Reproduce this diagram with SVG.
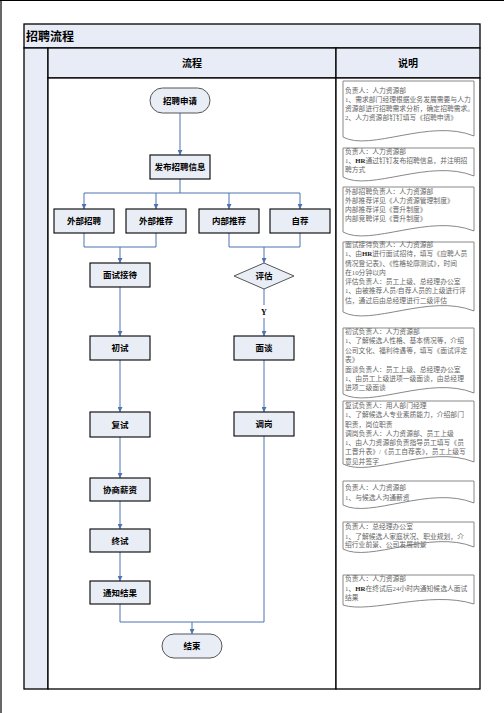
<svg xmlns="http://www.w3.org/2000/svg" width="504" height="713" viewBox="0 0 504 713">
<style>
.tb{fill:#e7ecf7;stroke:#000;stroke-width:1.3}
.cell{fill:#fff;stroke:#000;stroke-width:1.3}
.node{fill:#e9edf5;stroke:#000;stroke-width:1.1}
.pill{fill:#e9edf5;stroke:#555;stroke-width:1}
.nt{font-family:"Noto Sans CJK SC","Liberation Sans",sans-serif;font-size:8.5px;font-weight:bold;fill:#000;text-anchor:middle}
.hd{font-family:"Noto Sans CJK SC","Liberation Sans",sans-serif;font-size:10px;font-weight:bold;fill:#000;text-anchor:middle}
.ttl{font-family:"Noto Sans CJK SC","Liberation Sans",sans-serif;font-size:12px;font-weight:bold;fill:#000}
.doc{fill:#fff;stroke:#888;stroke-width:1}
.dt{font-family:"Liberation Serif","Noto Sans CJK SC",serif;font-size:6.8px;fill:#666}
.con{fill:none;stroke:#4f72b0;stroke-width:1}
.b{font-weight:bold;fill:#222}
</style>
<defs>
<marker id="ah" viewBox="0 0 6 6" refX="6" refY="3" markerWidth="5" markerHeight="5" orient="auto" markerUnits="userSpaceOnUse">
<path d="M0,0 L6,3 L0,6 Z" fill="#4f72b0"/>
</marker>
</defs>
<line x1="0" y1="0.5" x2="504" y2="0.5" stroke="#000" stroke-width="1.2"/>
<line x1="1" y1="0" x2="1" y2="713" stroke="#000" stroke-width="1.2"/>
<g id="table">
<rect class="tb" x="24" y="24" width="456" height="24"/>
<text class="ttl" x="26" y="40.5">招聘流程</text>
<rect class="tb" x="24" y="48" width="24" height="641"/>
<rect class="tb" x="48" y="48" width="288" height="30"/>
<rect class="tb" x="336" y="48" width="144" height="30"/>
<text class="hd" x="192" y="66.5">流程</text>
<text class="hd" x="408" y="66.5">说明</text>
<rect class="cell" x="48" y="78" width="288" height="611"/>
<rect class="cell" x="336" y="78" width="144" height="611"/>
</g>
<g id="connectors">
<path class="con" d="M180,113 V155" marker-end="url(#ah)"/>
<path class="con" d="M180,179 V193 M84,193 H300"/>
<path class="con" d="M84,193 V209" marker-end="url(#ah)"/>
<path class="con" d="M156,193 V209" marker-end="url(#ah)"/>
<path class="con" d="M229,193 V209" marker-end="url(#ah)"/>
<path class="con" d="M300,193 V209" marker-end="url(#ah)"/>
<path class="con" d="M84,233 V247 H156 V233"/>
<path class="con" d="M120,247 V263" marker-end="url(#ah)"/>
<path class="con" d="M229,233 V247 H300 V233"/>
<path class="con" d="M264,247 V263" marker-end="url(#ah)"/>
<path class="con" d="M120,287 V336" marker-end="url(#ah)"/>
<path class="con" d="M264,289 V305"/>
<path class="con" d="M264,318 V336" marker-end="url(#ah)"/>
<text x="264" y="315" font-family="Liberation Serif,serif" font-size="8px" font-weight="bold" text-anchor="middle">Y</text>
<path class="con" d="M120,360 V412" marker-end="url(#ah)"/>
<path class="con" d="M264,360 V412" marker-end="url(#ah)"/>
<path class="con" d="M120,437 V478" marker-end="url(#ah)"/>
<path class="con" d="M120,501 V529" marker-end="url(#ah)"/>
<path class="con" d="M120,552 V581" marker-end="url(#ah)"/>
<path class="con" d="M120,604 V622 H264 V436"/>
<path class="con" d="M192,622 V634" marker-end="url(#ah)"/>
</g>
<g id="n-start"><rect class="pill" x="150" y="88" width="60" height="25" rx="12.5"/><text class="nt" x="180" y="103.5">招聘申请</text></g>
<g id="n-publish"><rect class="node" x="150" y="155" width="60" height="24"/><text class="nt" x="180" y="170">发布招聘信息</text></g>
<g id="n-ext"><rect class="node" x="54" y="209" width="60" height="24"/><text class="nt" x="84" y="224">外部招聘</text></g>
<g id="n-extref"><rect class="node" x="126" y="209" width="60" height="24"/><text class="nt" x="156" y="224">外部推荐</text></g>
<g id="n-intref"><rect class="node" x="199" y="209" width="60" height="24"/><text class="nt" x="229" y="224">内部推荐</text></g>
<g id="n-self"><rect class="node" x="270" y="209" width="60" height="24"/><text class="nt" x="300" y="224">自荐</text></g>
<g id="n-reception"><rect class="node" x="90" y="263" width="60" height="24"/><text class="nt" x="120" y="278">面试接待</text></g>
<g id="n-eval"><polygon class="pill" points="264,263 294,276 264,289 234,276"/><text class="nt" x="264" y="279">评估</text></g>
<g id="n-first"><rect class="node" x="90" y="336" width="60" height="24"/><text class="nt" x="120" y="351">初试</text></g>
<g id="n-talk"><rect class="node" x="234" y="336" width="60" height="24"/><text class="nt" x="264" y="351">面谈</text></g>
<g id="n-second"><rect class="node" x="90" y="412" width="60" height="25"/><text class="nt" x="120" y="427.5">复试</text></g>
<g id="n-transfer"><rect class="node" x="234" y="412" width="60" height="24"/><text class="nt" x="264" y="427">调岗</text></g>
<g id="n-salary"><rect class="node" x="90" y="478" width="60" height="23"/><text class="nt" x="120" y="492.5">协商薪资</text></g>
<g id="n-final"><rect class="node" x="90" y="529" width="60" height="23"/><text class="nt" x="120" y="543.5">终试</text></g>
<g id="n-notify"><rect class="node" x="90" y="581" width="60" height="23"/><text class="nt" x="120" y="595.5">通知结果</text></g>
<g id="n-end"><rect class="pill" x="162" y="634" width="60" height="24" rx="12"/><text class="nt" x="192" y="649">结束</text></g>
<g id="d1"><path class="doc" d="M343,81 H474 V136 C430,118 370,152 343,137 Z"/>
<text class="dt" x="345"><tspan x="345" y="92.5">负责人：人力资源部</tspan><tspan x="345" y="101.8">1、需求部门经理根据业务发展需要与人力</tspan><tspan x="345" y="111">资源部进行招聘需求分析，确定招聘需求。</tspan><tspan x="345" y="120">2、人力资源部钉钉填写《招聘申请》</tspan></text></g>
<g id="d2"><path class="doc" d="M343,148 H474 V176 C430,158 370,192 343,177 Z"/>
<text class="dt"><tspan x="345" y="153.5">负责人：人力资源部</tspan><tspan x="345" y="163">1、<tspan class="b">HR</tspan>通过钉钉发布招聘信息，并注明招</tspan><tspan x="345" y="172.3">聘方式</tspan></text></g>
<g id="d3"><path class="doc" d="M343,187 H474 V231 C430,213 370,247 343,232 Z"/>
<text class="dt"><tspan x="345" y="193.5">外部招聘负责人：人力资源部</tspan><tspan x="345" y="202.5">外部推荐详见《人力资源管理制度》</tspan><tspan x="345" y="211.7">内部推荐详见《晋升制度》</tspan><tspan x="345" y="220.8">内部竞聘详见《晋升制度》</tspan></text></g>
<g id="d4"><path class="doc" d="M343,242 H474 V311 C430,293 370,327 343,312 Z"/>
<text class="dt"><tspan x="345" y="246.5">面试接待负责人：人力资源部</tspan><tspan x="345" y="256.3">1、由<tspan class="b">HR</tspan>进行面试招待，填写《应聘人员</tspan><tspan x="345" y="265.5">情况登记表》、《性格轮廓测试》，时间</tspan><tspan x="345" y="274.7">在10分钟以内</tspan><tspan x="345" y="284">评估负责人：员工上级、总经理办公室</tspan><tspan x="345" y="293.3">1、由被推荐人员/自荐人员的上级进行评</tspan><tspan x="345" y="302.5">估，通过后由总经理进行二级评估</tspan></text></g>
<g id="d5"><path class="doc" d="M343,328 H474 V393 C430,375 370,409 343,394 Z"/>
<text class="dt"><tspan x="345" y="334">初试负责人：人力资源部</tspan><tspan x="345" y="343.4">1、了解候选人性格、基本情况等，介绍</tspan><tspan x="345" y="353">公司文化、福利待遇等，填写《面试评定</tspan><tspan x="345" y="362.4">表》</tspan><tspan x="345" y="371.7">面谈负责人：员工上级、总经理办公室</tspan><tspan x="345" y="381">1、由员工上级进项一级面谈，由总经理</tspan><tspan x="345" y="390.3">进项二级面谈</tspan></text></g>
<g id="d6"><path class="doc" d="M343,401 H474 V462 C430,444 370,478 343,464 Z"/>
<text class="dt"><tspan x="345" y="408">复试负责人：用人部门经理</tspan><tspan x="345" y="417.4">1、了解候选人专业素质能力，介绍部门</tspan><tspan x="345" y="426.7">职责，岗位职责</tspan><tspan x="345" y="436">调岗负责人：人力资源部、员工上级</tspan><tspan x="345" y="445.4">1、由人力资源部负责指导员工填写《员</tspan><tspan x="345" y="454.4">工晋升表》/《员工自荐表》，员工上级写</tspan><tspan x="345" y="463.6">意见并签字</tspan></text></g>
<g id="d7"><path class="doc" d="M343,481 H474 V503 C430,485 370,519 343,505 Z"/>
<text class="dt"><tspan x="345" y="489.7">负责人：人力资源部</tspan><tspan x="345" y="499.6">1、与候选人沟通薪资</tspan></text></g>
<g id="d8"><path class="doc" d="M343,522 H474 V547 C430,529 370,563 343,549 Z"/>
<text class="dt"><tspan x="345" y="529">负责人：总经理办公室</tspan><tspan x="345" y="538.7">1、了解候选人家庭状况、职业规划，介</tspan><tspan x="345" y="547.4">绍行业前景、公司发展前景</tspan></text></g>
<g id="d9"><path class="doc" d="M343,575 H474 V604 C430,590 370,614 343,605 Z"/>
<text class="dt"><tspan x="345" y="581.4">负责人：人力资源部</tspan><tspan x="345" y="590.7">1、<tspan class="b">HR</tspan>在终试后24小时内通知候选人面试</tspan><tspan x="345" y="599.7">结果</tspan></text></g>
</svg>
